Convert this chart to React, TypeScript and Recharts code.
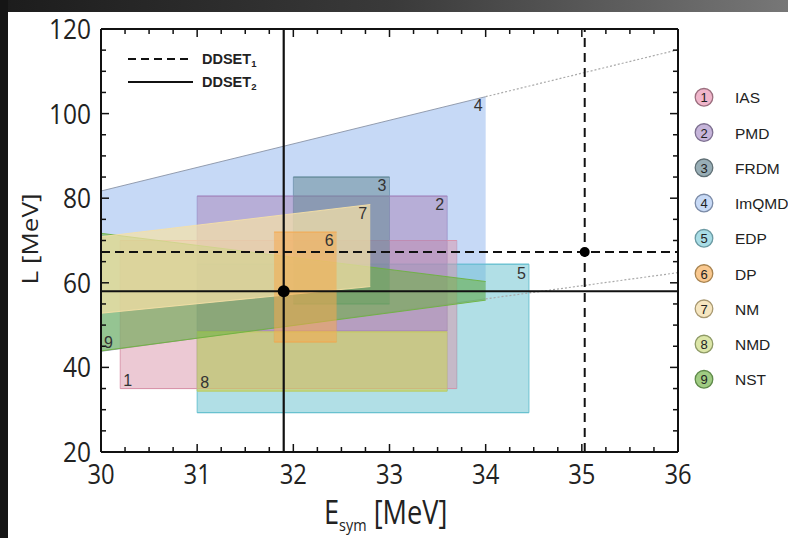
import React from "react";
import {
  ComposedChart,
  XAxis,
  YAxis,
  Area,
  Line,
  ReferenceArea,
  ReferenceLine,
  ReferenceDot,
} from "recharts";

// legend entries
const modelIds = [1, 2, 3, 4, 5, 6, 7, 8, 9];
const modelNames = ["IAS", "PMD", "FRDM", "ImQMD", "EDP", "DP", "NM", "NMD", "NST"];
const legendFill = ["#F0B6CB", "#C6B5DA", "#98AEB6", "#C8DAF6", "#A9DDE6", "#F9C88F", "#F6E6C0", "#DCE6A8", "#A0CC83"];
const legendStroke = ["#9B6E7E", "#7D6F90", "#5F6F75", "#7B8BA7", "#6B9AA3", "#A8834F", "#A89870", "#8E9A66", "#5F8A4A"];

// region fills, indexed by model id - 1
const regionFill = ["#D994AA", "#A783B8", "#5F8590", "#97BAEF", "#63BFCE", "#F5A94F", "#F5E0A6", "#C9D05A", "#6DB33F"];
const regionOpacity = [0.5, 0.5, 0.5, 0.55, 0.5, 0.55, 0.72, 0.58, 0.55];
// stacking order of the shaded regions
const drawOrder = [4, 5, 1, 2, 8, 3, 9, 7, 6];

// rectangular constraints
const rectIds = [1, 2, 3, 5, 6, 8];
const rectEsymLo = [30.2, 31.0, 32.0, 31.0, 31.8, 31.0];
const rectEsymHi = [33.7, 33.6, 33.0, 34.45, 32.45, 33.6];
const rectLLo = [35, 48.6, 55, 29.3, 46, 34.4];
const rectLHi = [70, 80.5, 85, 64.4, 72, 48.4];
const rectTagPos = ["insideBottomLeft", "insideTopRight", "insideTopRight", "insideTopRight", "insideTopRight", "insideBottomLeft"];

// slanted constraints (ImQMD, NM, NST): L band at both E_sym ends
const polyIds = [4, 7, 9];
const polyEsymLo = [30, 30, 30];
const polyEsymHi = [34, 32.8, 34];
const polyLLoStart = [43.8, 52.8, 43.9];
const polyLLoEnd = [56.2, 59.1, 55.9];
const polyLHiStart = [81.7, 70.9, 71.7];
const polyLHiEnd = [104, 78.5, 60.3];
const polyTagEsym = [34, 32.8, 30];
const polyTagL = [104, 78.5, 43.9];
const polyTagPos = ["insideTopRight", "insideTopRight", "insideBottomLeft"];

// dotted continuation of the ImQMD band edges
const extEsym = [34, 36];
const extLLo = [56.2, 62.4];
const extLHi = [104, 115.1];

// DDSET points
const ddsetEsym = [35.03, 31.9];
const ddsetL = [67.3, 58];

const xMajor = [30, 31, 32, 33, 34, 35, 36];
const yMajor = [20, 40, 60, 80, 100, 120];
const xTicks = Array.from({ length: 25 }, (_, i) => 30 + i * 0.25);
const yTicks = Array.from({ length: 21 }, (_, i) => 20 + i * 5);

// one row per E_sym value where some region edge sits
const bands: Record<number, { x: number[]; lo: number[]; hi: number[] }> = {};
rectIds.forEach((id, i) => {
  bands[id] = { x: [rectEsymLo[i], rectEsymHi[i]], lo: [rectLLo[i], rectLLo[i]], hi: [rectLHi[i], rectLHi[i]] };
});
polyIds.forEach((id, i) => {
  bands[id] = { x: [polyEsymLo[i], polyEsymHi[i]], lo: [polyLLoStart[i], polyLLoEnd[i]], hi: [polyLHiStart[i], polyLHiEnd[i]] };
});
const allX = Array.from(new Set([...Object.values(bands).flatMap((b) => b.x), ...extEsym])).sort((a, b) => a - b);
const rows = allX.map((x) => {
  const row: any = { x };
  Object.entries(bands).forEach(([id, b]) => {
    const k = b.x.indexOf(x);
    row["r" + id] = k < 0 ? null : [b.lo[k], b.hi[k]];
  });
  const e = extEsym.indexOf(x);
  row.extLo = e < 0 ? null : extLLo[e];
  row.extHi = e < 0 ? null : extLHi[e];
  return row;
});

const tickFont = "'Open Sans', 'Noto Sans', sans-serif";
const labelFont = "'Liberation Sans', Arial, sans-serif";
const axisColor = "#111";

const BottomTick = (p: any) => {
  const v = p.payload.value;
  const major = xMajor.includes(v);
  return (
    <g>
      <line x1={p.x} x2={p.x} y1={p.y} y2={p.y - (major ? 8 : 5)} stroke={axisColor} strokeWidth={1.5} />
      {major && (
        <text x={p.x} y={p.y + 21} textAnchor="middle" dominantBaseline="central" fontSize={28} fontFamily={tickFont} fill="#222"
          textLength={String(v).length * 13.6} lengthAdjust="spacingAndGlyphs">
          {v}
        </text>
      )}
    </g>
  );
};

const TopTick = (p: any) => {
  const major = xMajor.includes(p.payload.value);
  return <line x1={p.x} x2={p.x} y1={p.y} y2={p.y + (major ? 8 : 5)} stroke={axisColor} strokeWidth={1.5} />;
};

const LeftTick = (p: any) => {
  const v = p.payload.value;
  const major = yMajor.includes(v);
  const w = String(v).length * 14;
  return (
    <g>
      <line x1={p.x} x2={p.x + (major ? 8 : 5)} y1={p.y} y2={p.y} stroke={axisColor} strokeWidth={1.5} />
      {major && (
        <text x={p.x - 10 - w} y={p.y - 1} dominantBaseline="central" fontSize={28} fontFamily={tickFont} fill="#222"
          textLength={w} lengthAdjust="spacingAndGlyphs">
          {v}
        </text>
      )}
    </g>
  );
};

const RightTick = (p: any) => {
  const major = yMajor.includes(p.payload.value);
  return <line x1={p.x} x2={p.x - (major ? 8 : 5)} y1={p.y} y2={p.y} stroke={axisColor} strokeWidth={1.5} />;
};

const tagStyle = { fill: "#333", fontSize: 16, fontFamily: labelFont };

export default function App() {
  return (
    <div style={{ position: "absolute", left: 0, top: 0, width: 788, height: 538, background: "#fff", overflow: "hidden" }}>
      <div style={{ position: "absolute", left: 0, top: 0, width: 788, height: 12, background: "linear-gradient(90deg, #1c1c1c, #3a3a3a 50%, #777)" }} />
      <div style={{ position: "absolute", left: 0, top: 0, width: 8, height: 538, background: "#151515" }} />

      <div style={{ position: "absolute", left: 0, top: 0 }}>
        <ComposedChart width={788} height={538} data={rows} margin={{ top: 24, right: 100, bottom: 46, left: 41 }}>
          <XAxis xAxisId={0} dataKey="x" type="number" domain={[30, 36]} ticks={xTicks} interval={0} allowDataOverflow
            tickSize={0} tickMargin={0} height={40} axisLine={{ stroke: axisColor, strokeWidth: 2 }} tickLine={false} tick={BottomTick} />
          <XAxis xAxisId="top" orientation="top" dataKey="x" type="number" domain={[30, 36]} ticks={xTicks} interval={0} allowDataOverflow
            tickSize={0} tickMargin={0} height={5} axisLine={{ stroke: axisColor, strokeWidth: 2 }} tickLine={false} tick={TopTick} />
          <YAxis yAxisId={0} type="number" domain={[20, 120]} ticks={yTicks} interval={0} allowDataOverflow
            tickSize={0} tickMargin={0} width={60} axisLine={{ stroke: axisColor, strokeWidth: 2 }} tickLine={false} tick={LeftTick} />
          <YAxis yAxisId="right" orientation="right" type="number" domain={[20, 120]} ticks={yTicks} interval={0} allowDataOverflow
            tickSize={0} tickMargin={0} width={10} axisLine={{ stroke: axisColor, strokeWidth: 2 }} tickLine={false} tick={RightTick} />

          {/* rectangle outlines and number tags */}
          {rectIds.map((id, i) => (
            <ReferenceArea key={"o" + id} x1={rectEsymLo[i]} x2={rectEsymHi[i]} y1={rectLLo[i]} y2={rectLHi[i]}
              fill="none" stroke={regionFill[id - 1]} strokeOpacity={0.9} strokeWidth={1} ifOverflow="hidden"
              label={{ value: String(id), position: rectTagPos[i] as any, offset: 3, ...tagStyle }} />
          ))}

          {drawOrder.map((id) => (
            <Area key={id} dataKey={"r" + id} type="linear" connectNulls fill={regionFill[id - 1]} fillOpacity={regionOpacity[id - 1]}
              stroke={id === 4 ? "#8a94a6" : regionFill[id - 1]} strokeOpacity={0.9} strokeWidth={1} isAnimationActive={false} activeDot={false} />
          ))}

          <Line dataKey="extLo" type="linear" connectNulls stroke="#aaa" strokeWidth={1.2} strokeDasharray="2 2" dot={false} isAnimationActive={false} />
          <Line dataKey="extHi" type="linear" connectNulls stroke="#aaa" strokeWidth={1.2} strokeDasharray="2 2" dot={false} isAnimationActive={false} />

          {polyIds.map((id, i) => (
            <ReferenceDot key={"t" + id} x={polyTagEsym[i]} y={polyTagL[i]} r={0} fill="none" stroke="none"
              label={{ value: String(id), position: polyTagPos[i] as any, offset: 3, ...tagStyle }} />
          ))}

          <ReferenceLine x={ddsetEsym[0]} stroke="#111" strokeWidth={2} strokeDasharray="9 6" />
          <ReferenceLine y={ddsetL[0]} stroke="#111" strokeWidth={2} strokeDasharray="9 5" />
          <ReferenceLine x={ddsetEsym[1]} stroke="#111" strokeWidth={2.2} />
          <ReferenceLine y={ddsetL[1]} stroke="#111" strokeWidth={2.2} />
          <ReferenceDot x={ddsetEsym[0]} y={ddsetL[0]} r={5} fill="#000" stroke="none" />
          <ReferenceDot x={ddsetEsym[1]} y={ddsetL[1]} r={6} fill="#000" stroke="none" />
        </ComposedChart>
      </div>

      {/* axis titles, inset line legend, model legend */}
      <svg width={788} height={538} style={{ position: "absolute", left: 0, top: 0, pointerEvents: "none" }}>
        <g transform="translate(30 239) scale(0.82 1) rotate(-90)">
          <text x={0} y={0} textAnchor="middle" dominantBaseline="central" fontSize={26} fontFamily={tickFont} fill="#222">
            L [MeV]
          </text>
        </g>
        <g transform="translate(324 524) scale(0.85 1)">
          <text x={0} y={0} fontSize={32} fontFamily={tickFont} fill="#222">
            E<tspan fontSize={17} dy={7}>sym</tspan>
            <tspan dy={-7}> [MeV]</tspan>
          </text>
        </g>

        <line x1={128} x2={193} y1={59} y2={59} stroke="#111" strokeWidth={2} strokeDasharray="8 5" />
        <line x1={128} x2={193} y1={82} y2={82} stroke="#111" strokeWidth={2} />
        <text x={202} y={64} fontSize={14.5} fontWeight="bold" fontFamily={labelFont} fill="#222">
          DDSET<tspan fontSize={9.5} dy={3}>1</tspan>
        </text>
        <text x={202} y={87} fontSize={14.5} fontWeight="bold" fontFamily={labelFont} fill="#222">
          DDSET<tspan fontSize={9.5} dy={3}>2</tspan>
        </text>

        {modelIds.map((id, i) => (
          <g key={id}>
            <circle cx={704} cy={97.3 + i * 35.25} r={8.8} fill={legendFill[i]} stroke={legendStroke[i]} strokeWidth={1.3} />
            <text x={704} y={97.8 + i * 35.25} textAnchor="middle" dominantBaseline="central" fontSize={13} fontFamily={labelFont} fill="#222">
              {id}
            </text>
            <text x={735} y={97.8 + i * 35.25} dominantBaseline="central" fontSize={15.5} fontFamily={labelFont} fill="#222">
              {modelNames[i]}
            </text>
          </g>
        ))}
      </svg>
    </div>
  );
}
